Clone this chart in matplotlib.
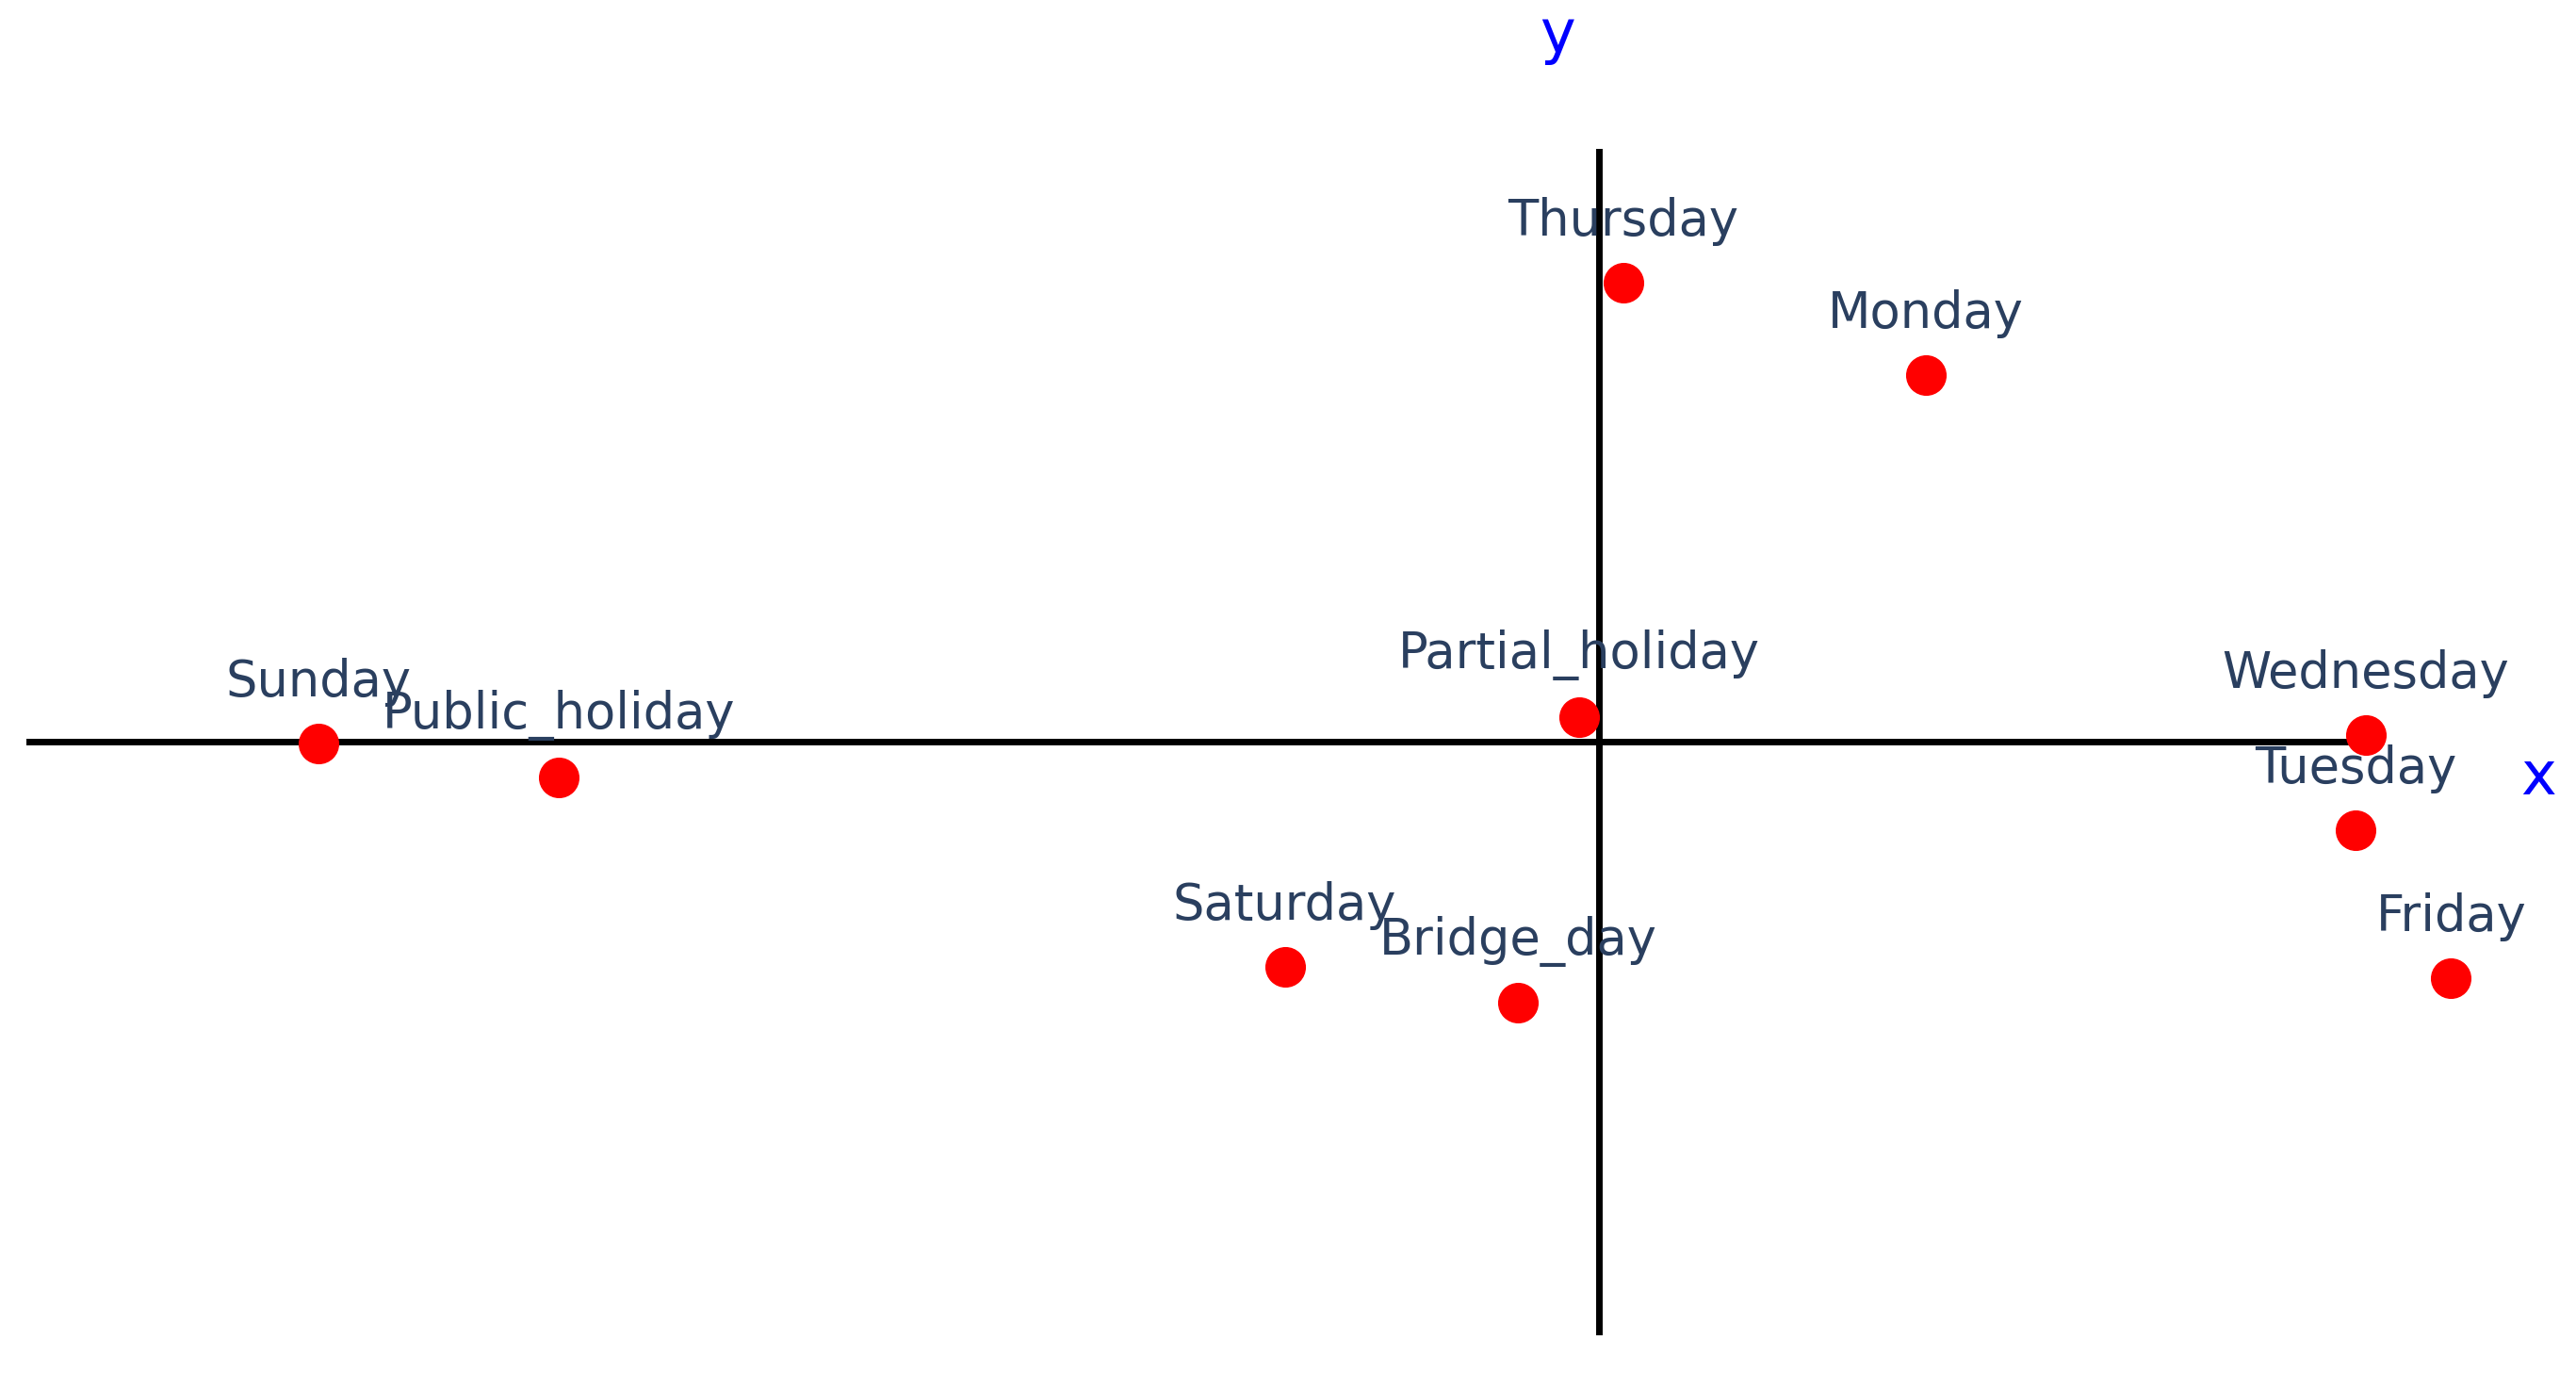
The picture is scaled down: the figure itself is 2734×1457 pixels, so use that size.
import matplotlib.pyplot as plt

names = ["Sunday", "Public_holiday", "Saturday", "Bridge_day", "Partial_holiday",
         "Thursday", "Monday", "Wednesday", "Tuesday", "Friday"]
xs = [-7.79, -6.33, -1.91, -0.49, -0.12, 0.15, 1.99, 4.67, 4.61, 5.19]
ys = [-0.01, -0.22, -1.37, -1.59, 0.15, 2.79, 2.23, 0.04, -0.54, -1.44]

fig = plt.figure(figsize=(27.34, 14.57), dpi=100)
ax = fig.add_axes([0, 0, 1, 1])
ax.set_xlim(-9.73, 5.95)
ax.set_ylim(-3.84, 4.51)
ax.axis("off")

ax.plot([-9.55, 4.67], [0, 0], color="black", lw=5, zorder=1)
ax.plot([0, 0], [-3.59, 3.59], color="black", lw=5, zorder=1)

ax.scatter(xs, ys, s=900, color="red", zorder=3)
for n, x, y in zip(names, xs, ys):
    ax.annotate(n, (x, y), xytext=(0, 28), textcoords="offset points",
                ha="center", va="bottom", fontsize=38, color="#2a3f5f", zorder=2)

ax.text(-0.25, 4.29, "y", color="blue", fontsize=46, ha="center", va="center")
ax.text(5.72, -0.22, "x", color="blue", fontsize=46, ha="center", va="center")

fig.savefig("out.png", dpi=100, facecolor="white")
